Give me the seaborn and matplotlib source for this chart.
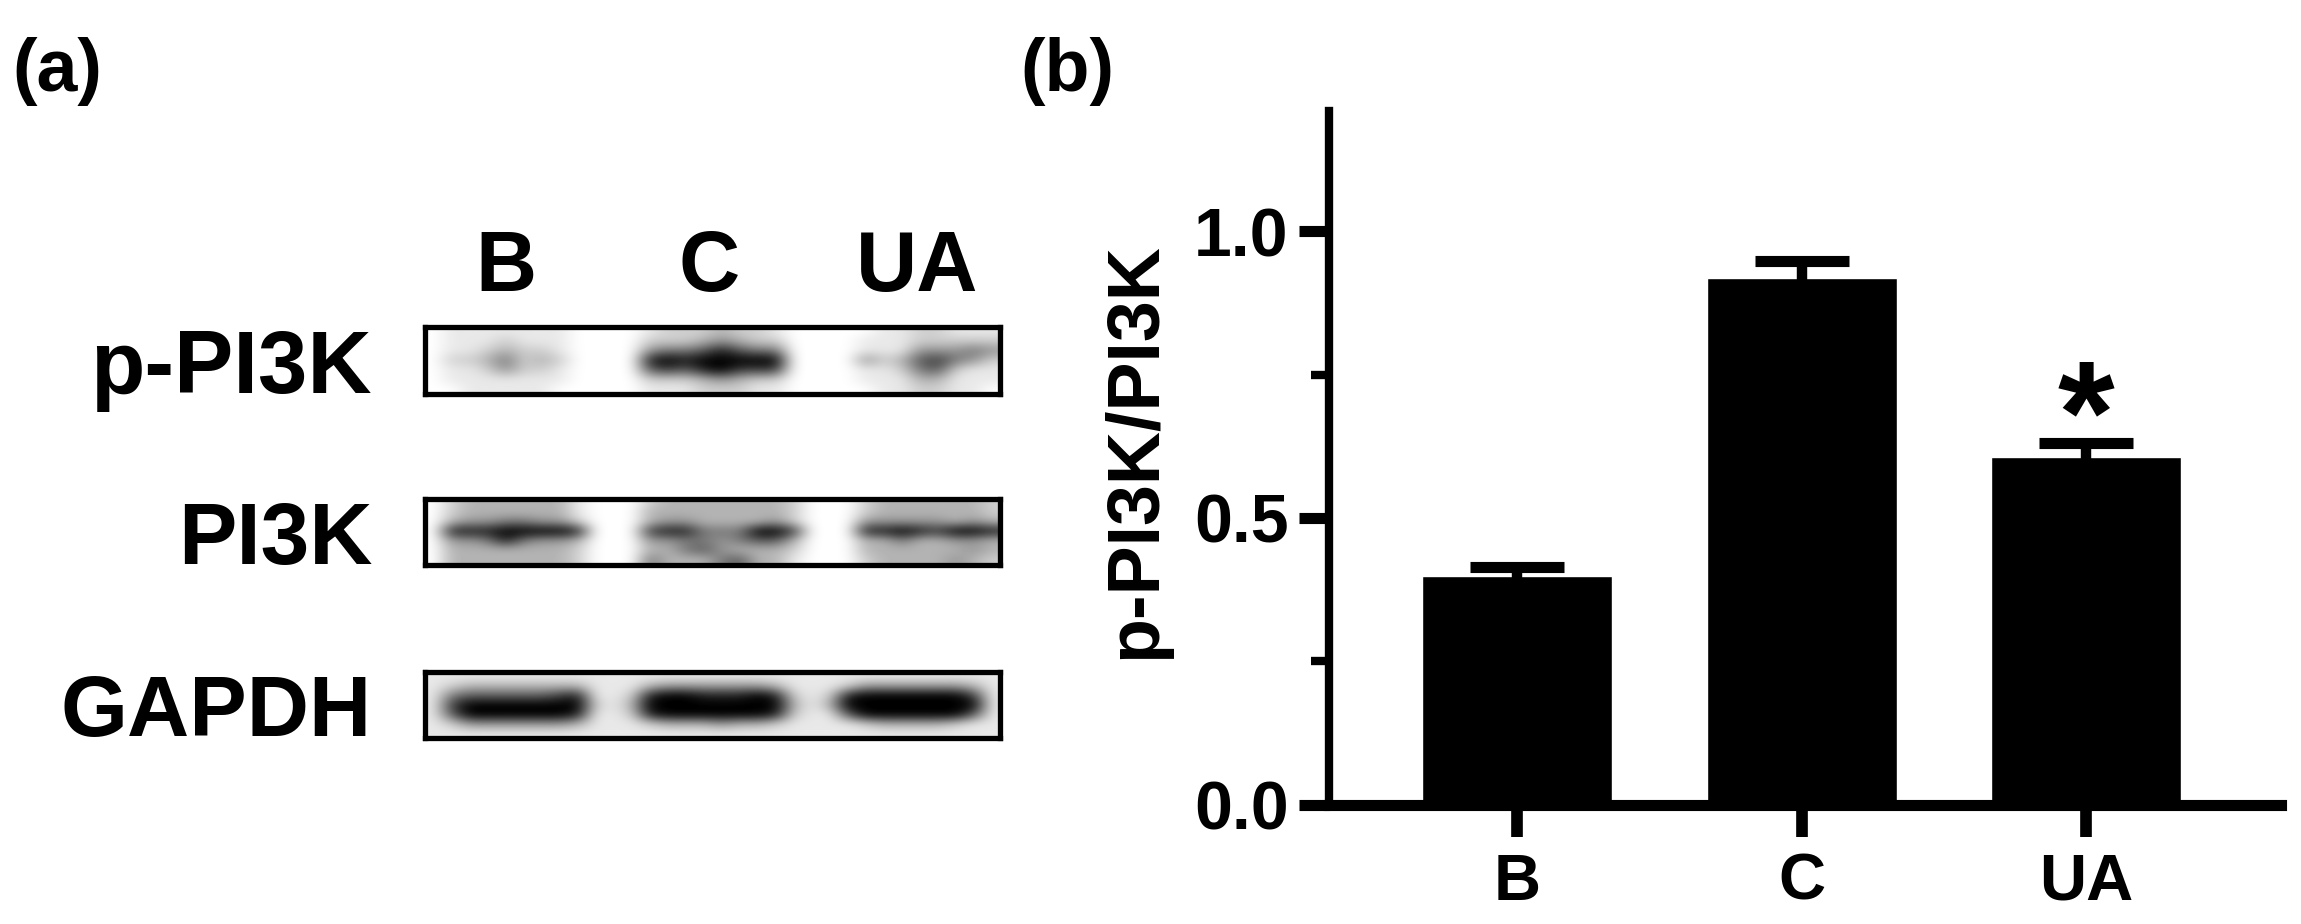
import numpy as np
import pandas as pd
import matplotlib
matplotlib.use("Agg")
import matplotlib.pyplot as plt
import seaborn as sns

# panel b values
groups = ["B", "C", "UA"]
means = [0.398, 0.919, 0.606]
err_tops = [0.414, 0.949, 0.631]
ylabel = "p-PI3K/PI3K"

# panel a labels
lanes = ["B", "C", "UA"]
proteins = ["p-PI3K", "PI3K", "GAPDH"]

# band darkness estimated by eye, 0 = white and 9 = black
blot_ppi3k = [
    [0, 1, 1, 1, 1, 1, 1, 1, 0, 0, 0, 0, 1, 2, 2, 2, 3, 2, 2, 1, 0, 0, 0, 0, 0, 1, 1, 2, 2, 1, 1, 1],
    [0, 1, 1, 1, 2, 1, 1, 1, 0, 0, 0, 0, 2, 2, 2, 3, 4, 3, 2, 2, 0, 0, 0, 0, 1, 1, 1, 2, 2, 2, 2, 2],
    [0, 1, 1, 2, 3, 2, 2, 1, 0, 0, 0, 0, 4, 5, 5, 6, 8, 6, 5, 5, 0, 0, 0, 0, 1, 1, 1, 4, 4, 4, 5, 4],
    [0, 2, 2, 3, 5, 2, 3, 2, 0, 0, 0, 0, 8, 9, 8, 9, 9, 9, 9, 9, 0, 0, 0, 0, 4, 2, 3, 6, 7, 5, 4, 2],
    [0, 1, 1, 2, 4, 2, 2, 1, 0, 0, 0, 0, 6, 7, 6, 8, 9, 7, 7, 7, 0, 0, 0, 0, 1, 1, 2, 5, 6, 2, 1, 1],
    [0, 1, 1, 1, 1, 1, 1, 1, 0, 0, 0, 0, 2, 2, 2, 3, 4, 3, 2, 2, 0, 0, 0, 0, 1, 1, 1, 3, 3, 1, 1, 1],
    [0, 0, 1, 1, 1, 1, 1, 0, 0, 0, 0, 0, 1, 1, 1, 2, 2, 2, 1, 1, 0, 0, 0, 0, 0, 1, 1, 2, 2, 1, 1, 0],
]
blot_pi3k = [
    [0, 2, 3, 3, 3, 3, 3, 3, 1, 0, 0, 0, 2, 3, 3, 3, 3, 3, 3, 3, 2, 0, 0, 0, 2, 3, 3, 3, 3, 3, 3, 2],
    [0, 2, 3, 3, 3, 3, 3, 3, 1, 0, 0, 0, 3, 3, 3, 3, 3, 3, 3, 3, 2, 0, 0, 0, 2, 3, 3, 3, 3, 3, 3, 2],
    [0, 3, 4, 4, 5, 5, 4, 4, 2, 0, 0, 0, 3, 4, 4, 3, 3, 3, 3, 4, 2, 0, 0, 0, 4, 4, 4, 4, 4, 3, 4, 3],
    [0, 8, 8, 8, 9, 9, 9, 9, 8, 0, 0, 0, 7, 8, 8, 5, 5, 5, 9, 9, 7, 0, 0, 0, 8, 8, 9, 8, 7, 9, 9, 8],
    [0, 4, 4, 5, 8, 5, 4, 4, 3, 0, 0, 0, 4, 4, 5, 5, 4, 5, 6, 6, 3, 0, 0, 0, 3, 3, 5, 3, 3, 4, 4, 3],
    [0, 3, 3, 3, 3, 3, 3, 3, 2, 0, 0, 0, 3, 3, 5, 6, 4, 3, 3, 3, 2, 0, 0, 0, 3, 3, 3, 3, 3, 3, 4, 3],
    [0, 3, 3, 3, 3, 3, 3, 3, 2, 0, 0, 0, 5, 3, 3, 3, 5, 6, 3, 3, 1, 0, 0, 0, 2, 3, 3, 3, 3, 4, 3, 2],
]
blot_gapdh = [
    [1, 1, 1, 1, 1, 1, 1, 1, 1, 1, 1, 1, 1, 1, 1, 1, 1, 1, 1, 1, 1, 1, 1, 1, 1, 1, 1, 1, 1, 1, 1, 1],
    [1, 2, 3, 3, 3, 3, 3, 3, 3, 1, 1, 1, 3, 4, 4, 4, 4, 4, 4, 3, 1, 1, 1, 2, 4, 4, 4, 4, 4, 4, 3, 1],
    [1, 5, 6, 6, 6, 6, 6, 7, 8, 1, 1, 2, 8, 9, 9, 8, 8, 8, 9, 8, 2, 1, 2, 8, 9, 9, 9, 9, 9, 9, 7, 1],
    [1, 7, 9, 9, 9, 9, 9, 9, 9, 2, 1, 3, 9, 9, 9, 9, 9, 9, 9, 9, 3, 1, 3, 9, 9, 9, 9, 9, 9, 9, 9, 1],
    [1, 6, 9, 9, 9, 9, 9, 9, 8, 1, 1, 2, 8, 9, 9, 9, 9, 9, 9, 8, 2, 1, 1, 6, 9, 9, 9, 9, 9, 9, 6, 1],
    [1, 2, 4, 4, 4, 4, 4, 4, 3, 1, 1, 1, 2, 3, 3, 3, 4, 3, 3, 2, 1, 1, 1, 1, 2, 3, 3, 3, 3, 2, 1, 1],
    [1, 1, 1, 1, 1, 1, 1, 1, 1, 1, 1, 1, 1, 1, 1, 1, 1, 1, 1, 1, 1, 1, 1, 1, 1, 1, 1, 1, 1, 1, 1, 1],
]

W, H = 2301, 924

sns.set_theme(style="ticks")
plt.rcParams["font.family"] = ["Liberation Sans", "DejaVu Sans"]
plt.rcParams["font.weight"] = "bold"


def px_axes(fig, left, top, right, bottom):
    return fig.add_axes([left / W, 1 - bottom / H, (right - left) / W, (bottom - top) / H])


def fig_text(fig, x, y, s, **kw):
    fig.text(x / W, 1 - y / H, s, color="black", fontweight="bold", **kw)


fig = plt.figure(figsize=(W / 100, H / 100), dpi=100, facecolor="white")

# panel a
boxes = [(326.5, 394), (498.5, 564.5), (672, 738)]
for (top, bottom), rows in zip(boxes, [blot_ppi3k, blot_pi3k, blot_gapdh]):
    ax = px_axes(fig, 425, top, 1000, bottom)
    dark = (np.array(rows) / 9) ** 1.1
    ax.imshow(dark, cmap="gray_r", vmin=0, vmax=1, aspect="auto", interpolation="bicubic")
    ax.set_xticks([])
    ax.set_yticks([])
    for s in ax.spines.values():
        s.set_visible(True)
        s.set_linewidth(3.8)
        s.set_color("black")

for name, x in zip(lanes, [506, 709, 917]):
    fig_text(fig, x, 291, name, fontsize=61, ha="center", va="baseline")
for name, y, size in zip(proteins, [393, 564, 736], [64, 63, 62]):
    fig_text(fig, 372, y, name, fontsize=size, ha="right", va="baseline")
fig_text(fig, 12, 91, "(a)", fontsize=53, ha="left", va="baseline")
fig_text(fig, 1020, 91, "(b)", fontsize=53, ha="left", va="baseline")

# panel b
ax = px_axes(fig, 1328.5, 111, 2281, 804.5)
df = pd.DataFrame({"group": groups, "value": means})
sns.barplot(data=df, x="group", y="value", color="black", saturation=1, width=0.668, ax=ax)
ax.errorbar(range(len(groups)), means, yerr=np.array(err_tops) - np.array(means),
            fmt="none", ecolor="black", elinewidth=7.5, capsize=34, capthick=8)
ax.set_xlim(-0.6626, 2.685)
ax.set_ylim(0, 1.21)
ax.set_yticks([0, 0.5, 1.0])
ax.set_yticklabels(["0.0", "0.5", "1.0"], fontsize=49, fontweight="bold", color="black")
ax.set_yticks([0.25, 0.75], minor=True)
ax.tick_params(axis="y", which="major", length=21.8, width=8, pad=7, color="black")
ax.tick_params(axis="y", which="minor", length=13, width=6, color="black")
ax.tick_params(axis="x", length=22.7, width=8.4, pad=12, color="black", labelsize=47, labelcolor="black")
for lab in ax.get_xticklabels():
    lab.set_fontweight("bold")
ax.set_xlabel("")
ax.set_ylabel("")
sns.despine(ax=ax)
for name, lw in [("left", 6), ("bottom", 8)]:
    ax.spines[name].set_linewidth(lw)
    ax.spines[name].set_color("black")
fig_text(fig, 1136, 451, ylabel, fontsize=53, rotation=90, ha="center", va="center")
ax.text(2, 0.597, "*", fontsize=105, fontweight="bold", ha="center", va="baseline", color="black")

fig.savefig("out.png", dpi=100)
